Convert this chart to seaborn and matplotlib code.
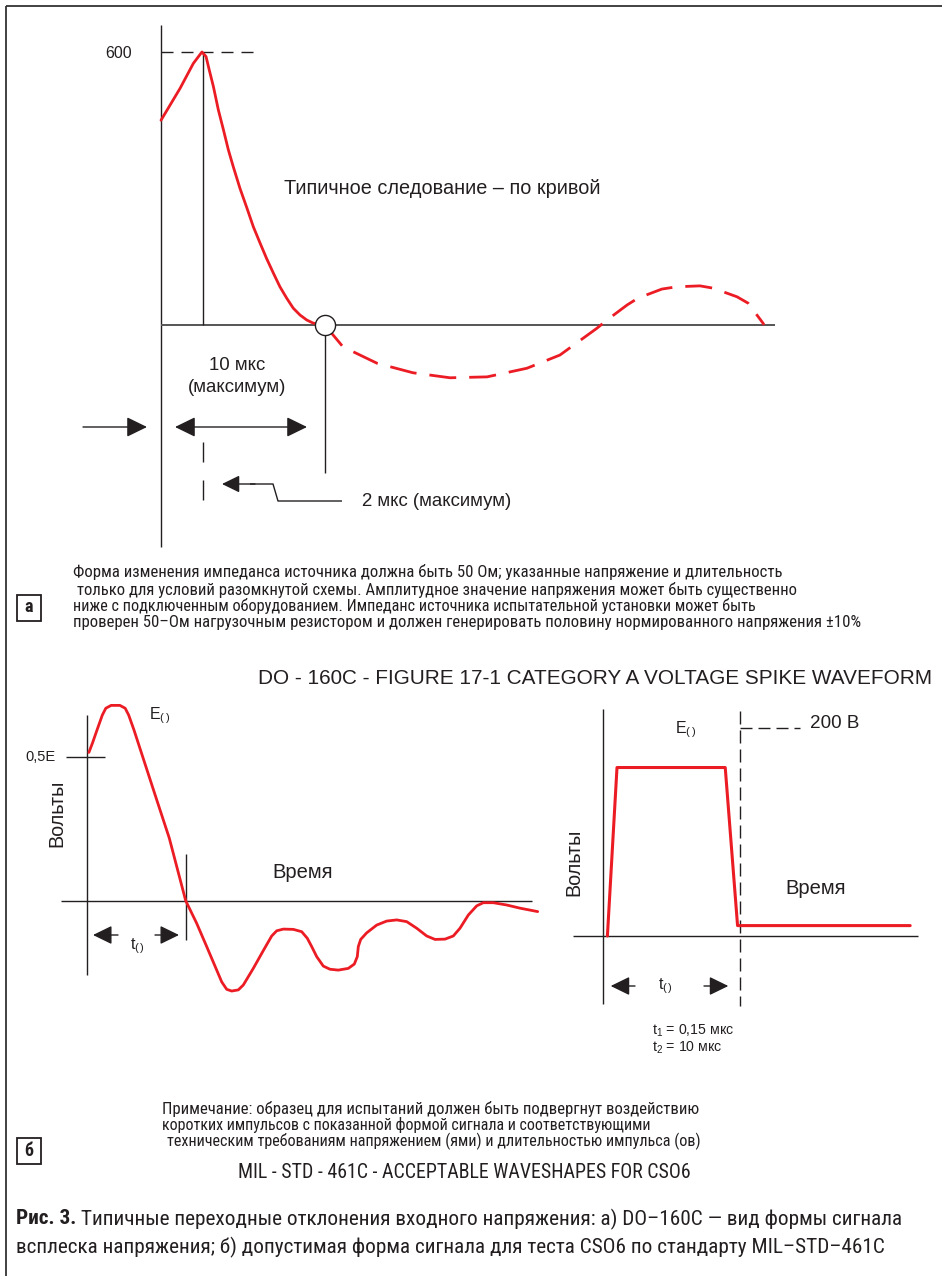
import numpy as np
import pandas as pd
import matplotlib
matplotlib.use("Agg")
import matplotlib.pyplot as plt
import seaborn as sns
from matplotlib.patches import Rectangle
from matplotlib import font_manager as fm

# ---------------- data ----------------
# Panel a: DO-160C voltage spike, time in µs, voltage in V
a_solid_t = [0.0, 0.93, 1.58, 2.0, 2.20, 2.36, 2.56, 2.80, 3.05, 3.29, 3.53, 3.86, 4.19, 4.51,
             4.84, 5.16, 5.49, 5.81, 6.14, 6.46, 6.79, 7.12, 7.44, 8.0]
a_solid_v = [450, 520, 575, 600, 590, 560, 524, 473, 429, 385, 348, 300, 258, 216,
             180, 146, 114, 84, 59, 37, 22, 11, 4, 0]
a_dash_t = [8.0, 8.89, 10.55, 12.31, 14.12, 15.93, 17.88, 19.49, 21.3, 21.79, 22.77, 23.3, 24.47,
            25.2, 26.33, 26.97, 28.14, 28.68, 29.41, 29.46]
a_dash_v = [0, -48, -84, -105, -116, -114, -95, -66, -7, 11, 44, 59, 79,
            84, 86, 81, 62, 48, 4, 0]
a_cross_t = 8.0

# Panel б (left): damped oscillating waveform, time (arb.), voltage in units of E
b1_t = [0.12, 0.295, 0.525, 0.79, 0.965, 1.23, 1.67, 1.935, 2.11, 2.375, 2.725, 3.43, 4.14, 4.96,
        5.51, 6.01, 6.51, 6.76, 7.01, 7.26, 7.59, 7.84, 8.34, 8.84, 9.26, 9.51, 9.84, 10.34,
        10.76, 11.04, 11.26, 11.51, 11.84, 12.175, 12.59, 13.09, 13.39, 13.54, 13.59, 13.71,
        14.01, 14.51, 15.01, 15.51, 16.01, 16.51, 17.01, 17.425, 17.925, 18.34, 18.675, 19.09,
        19.51, 19.84, 20.34, 21.01, 21.675, 22.56]
b1_v = [0.517, 0.549, 0.595, 0.647, 0.671, 0.681, 0.681, 0.671, 0.647, 0.595, 0.520, 0.369, 0.218, 0.0,
        -0.079, -0.160, -0.242, -0.283, -0.309, -0.315, -0.311, -0.294, -0.236, -0.174, -0.123, -0.105, -0.099, -0.100,
        -0.108, -0.131, -0.160, -0.195, -0.228, -0.239, -0.242, -0.236, -0.221, -0.195, -0.160, -0.135,
        -0.112, -0.085, -0.071, -0.067, -0.073, -0.096, -0.123, -0.135, -0.134, -0.123, -0.096, -0.050,
        -0.018, -0.007, -0.007, -0.015, -0.026, -0.038]

# Panel б (right): trapezoidal pulse, time (arb.), voltage in V
b2_t = [0.3, 1.0, 8.9, 9.8, 22.4]
b2_v = [0, 162, 162, 10, 10]

# texts
note_a = ["Форма изменения импеданса источника должна быть 50 Ом; указанные напряжение и длительность",
          "только для условий разомкнутой схемы. Амплитудное значение напряжения может быть существенно",
          "ниже с подключенным оборудованием. Импеданс источника испытательной установки может быть",
          "проверен 50–Ом нагрузочным резистором и должен генерировать половину нормированного напряжения ±10%"]
title_a = "DO - 160C - FIGURE 17-1 CATEGORY A VOLTAGE SPIKE WAVEFORM"
note_b = ["Примечание: образец для испытаний должен быть подвергнут воздействию",
          "коротких импульсов с показанной формой сигнала и соответствующими",
          "техническим требованиям напряжением (ями) и длительностью импульса (ов)"]
title_b = "MIL - STD - 461C - ACCEPTABLE WAVESHAPES FOR CSO6"
cap_bold = "Рис. 3."
cap_1 = " Типичные переходные отклонения входного напряжения: а) DO–160C — вид формы сигнала"
cap_2 = "всплеска напряжения; б) допустимая форма сигнала для теста CSO6 по стандарту MIL–STD–461C"

# ---------------- style ----------------
sns.set_theme(style="white")
SANS = ["Liberation Sans", "DejaVu Sans"]
plt.rcParams["font.family"] = SANS
plt.rcParams["mathtext.fontset"] = "custom"
plt.rcParams["mathtext.rm"] = "Liberation Sans"
plt.rcParams["mathtext.it"] = "Liberation Sans"

# choose a condensed face if one is installed
ttf = fm.fontManager.ttflist
names = {f.name for f in ttf}
NK = dict(family=SANS)
found = False
for n in ["Liberation Sans Narrow", "Arial Narrow", "Roboto Condensed", "Noto Sans Condensed",
          "Open Sans Condensed"]:
    if n in names:
        NK = dict(family=[n, "DejaVu Sans"])
        found = True
        break
if not found:
    for fam in ["Roboto", "Noto Sans", "Open Sans", "Liberation Sans", "DejaVu Sans"]:
        if any(f.name == fam and str(f.stretch) in ("condensed", "semi-condensed") for f in ttf):
            NK = dict(family=[fam, "DejaVu Sans"], fontstretch="condensed")
            break
RK = dict(family=SANS)

RED = "#ec1c24"
K = "#231f20"
W, H = 942, 1276

fig = plt.figure(figsize=(W / 100, H / 100), dpi=100)
fig.patch.set_facecolor("white")
bg = fig.add_axes([0, 0, 1, 1])
bg.set_xlim(0, W)
bg.set_ylim(H, 0)
bg.set_axis_off()
R = fig.canvas.get_renderer()


def dash(on, off, lw):
    return (0, (on * 0.72 / lw, off * 0.72 / lw))


def panel(L, T, Rr, B, x0, y0, sx, sy):
    ax = fig.add_axes([L / W, 1 - B / H, (Rr - L) / W, (B - T) / H])
    ax.set_xlim((L - x0) / sx, (Rr - x0) / sx)
    ax.set_ylim((y0 - B) / sy, (y0 - T) / sy)
    ax.set_axis_off()
    return ax


def line(xs, ys, lw=1.0, color=K, **kw):
    bg.plot(xs, ys, color=color, lw=lw, solid_capstyle="butt", **kw)


def arrow(tail, tip, ms=28, lw=1.0, both=False):
    style = "<|-|>" if both else "-|>"
    bg.annotate("", xy=tip, xytext=tail,
                arrowprops=dict(arrowstyle=style + ",head_length=0.45,head_width=0.22",
                                mutation_scale=ms, color=K, lw=lw, shrinkA=0, shrinkB=0))


def txt(x, y, s, fs, ha="left", va="center", **kw):
    kw.setdefault("color", K)
    return bg.text(x, y, s, fontsize=fs, ha=ha, va=va, **kw)


def fit(x, y, s, width, fk=None, **kw):
    fk = NK if fk is None else fk
    t = txt(x, y, s, 12, **fk, **kw)
    w = t.get_window_extent(R).width
    t.set_fontsize(12 * width / w)
    return t


# ---------------- frame ----------------
line([6, W], [6, 6], lw=1.3, color="#333333")
line([6, 6], [6, H], lw=1.3, color="#333333")

# ---------------- panel a ----------------
axa = panel(60, 15, 800, 560, 161, 325, 20.47, 0.455)
sns.lineplot(x=a_solid_t, y=a_solid_v, ax=axa, color=RED, linewidth=2.0, sort=False, estimator=None)
sns.lineplot(x=a_dash_t, y=a_dash_v, ax=axa, color=RED, linewidth=2.0, sort=False, estimator=None,
             linestyle=dash(27, 13, 2.0))
axa.plot([a_cross_t], [0], marker="o", ms=14.5, mfc="white", mec=K, mew=1.0, zorder=10)

line([161, 161], [25, 547])
line([161, 775], [325, 325], lw=1.4, color="#555555")
line([202.5, 202.5], [52, 325])
line([161, 253], [52, 52], linestyle=dash(12, 8, 1.0))
line([325, 325], [335, 473])
txt(119, 53, "600", 11.5, ha="center")
txt(284, 188, "Типичное следование – по кривой", 14.3)
txt(237, 365, "10 мкс", 13.4, ha="center")
txt(237, 387, "(максимум)", 13.4, ha="center")
arrow((83, 427), (147, 427))
arrow((175, 427), (307, 427), both=True)
line([203, 203], [442, 462])
line([203, 203], [480, 500])
line([342, 278, 273, 250], [501, 501, 484, 484])
arrow((255, 484), (222, 484), ms=24)
txt(362, 501, "2 мкс (максимум)", 13.4)

# note a
note_pos = [(73, 572, 710), (77, 590, 720), (73, 606, 682), (73, 622, 789)]
for s, (x, y, w) in zip(note_a, note_pos):
    fit(x, y, s, w)
bg.add_patch(Rectangle((16.5, 594.5), 24, 26, fill=False, ec=K, lw=1.3))
txt(28.5, 607.5, "а", 13, ha="center", fontweight="bold", **NK)
fit(258, 678, title_a, 672, fk=RK)

# ---------------- panel б left ----------------
axb1 = panel(10, 690, 545, 1010, 86.5, 900.7, 20.0, 286.8)
sns.lineplot(x=b1_t, y=b1_v, ax=axb1, color=RED, linewidth=2.0, sort=False, estimator=None)
line([86.5, 86.5], [715, 975])
line([61, 532], [900.7, 900.7])
line([66, 105], [757.3, 757.3])
line([186, 186], [854, 940])
txt(55, 757, "0,5E", 10.5, ha="right")
txt(160, 716, r"$\mathrm{E}_{(\,)}$", 11.5, ha="center")
txt(56.5, 813, "Вольты", 14.2, ha="center", rotation=90)
txt(303, 872, "Время", 14.5, ha="center")
arrow((118, 935), (93, 935), ms=26)
arrow((155, 935), (179, 935), ms=26)
txt(137, 946, r"$\mathrm{t}_{(\,)}$", 11.5, ha="center")

# ---------------- panel б right ----------------
axb2 = panel(560, 690, 930, 1060, 603.3, 936, 13.7, 1.04)
sns.lineplot(x=b2_t, y=b2_v, ax=axb2, color=RED, linewidth=2.2, sort=False, estimator=None)
line([603.3, 603.3], [709, 1004])
line([572.7, 917.7], [936, 936])
line([740.3, 740.3], [711, 1006], linestyle=dash(13, 6, 1.0))
line([740.3, 800], [728, 728], linestyle=dash(12, 6, 1.0))
txt(810, 724, "200 В", 13.6)
txt(686, 730, r"$\mathrm{E}_{(\,)}$", 11.5, ha="center")
txt(573.5, 862, "Вольты", 14.2, ha="center", rotation=90)
txt(815.7, 889, "Время", 14.5, ha="center")
arrow((635, 986), (610.7, 986), ms=26)
arrow((704, 986), (728.3, 986), ms=26)
txt(665, 986, r"$\mathrm{t}_{(\,)}$", 11.5, ha="center")
txt(651.5, 1031, r"$\mathrm{t}_1$ = 0,15 мкс", 10.2)
txt(651.5, 1048, r"$\mathrm{t}_2$ = 10 мкс", 10.2)

# note б
noteb_pos = [(162, 1109, 536), (162, 1125, 488), (167, 1141, 534)]
for s, (x, y, w) in zip(note_b, noteb_pos):
    fit(x, y, s, w)
bg.add_patch(Rectangle((16.5, 1137.5), 24, 26, fill=False, ec=K, lw=1.3))
txt(28.5, 1150.5, "б", 13, ha="center", fontweight="bold", **NK)
fit(238, 1172, title_b, 452)

# ---------------- caption ----------------
tb = txt(16, 1219, cap_bold, 12, fontweight="bold", **NK)
tr = txt(16, 1219, cap_1, 12, **NK)
wb = tb.get_window_extent(R).width
wr = tr.get_window_extent(R).width
k = 886 / (wb + wr)
tb.set_fontsize(12 * k)
tr.set_fontsize(12 * k)
tr.set_x(16 + wb * k)
fit(16, 1247, cap_2, 868)

fig.savefig("out.png", dpi=100, facecolor="white")
